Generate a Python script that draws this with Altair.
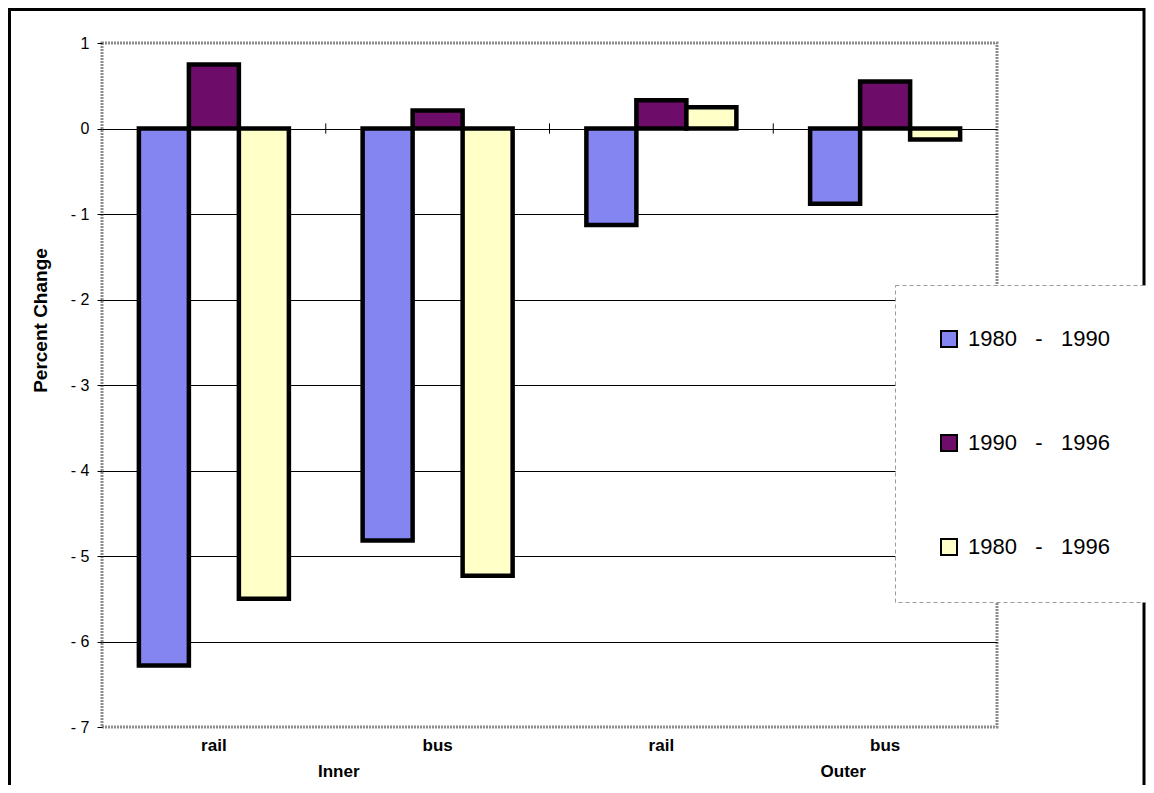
import altair as alt
import pandas as pd

# ---- data ----
groups = ["Inner", "Inner", "Outer", "Outer"]
modes = ["rail", "bus", "rail", "bus"]
series_names = ["1980 - 1990", "1990 - 1996", "1980 - 1996"]
change_1980_1990 = [-6.28, -4.82, -1.13, -0.88]
change_1990_1996 = [0.75, 0.21, 0.33, 0.55]
change_1980_1996 = [-5.50, -5.23, 0.25, -0.13]
series_colors = ["#8585f2", "#6e0c6a", "#ffffc8"]
y_ticks = [1, 0, -1, -2, -3, -4, -5, -6, -7]
group_labels = ["Inner", "Outer"]
group_anchor = ["Inner bus", "Outer bus"]

keys = [f"{g} {m}" for g, m in zip(groups, modes)]
rows = []
for s, vals in zip(series_names, [change_1980_1990, change_1990_1996, change_1980_1996]):
    for k, g, m, v in zip(keys, groups, modes, vals):
        rows.append({"key": k, "group": g, "mode": m, "series": s, "value": v})
df = pd.DataFrame(rows)

tick_df = pd.DataFrame({"key": keys[1:], "top": [0.06] * 3, "bottom": [-0.06] * 3})
grp_df = pd.DataFrame({"key": group_anchor, "group": group_labels})

W, H = 895, 684
FONT = "Liberation Sans"

x_scale = alt.Scale(domain=keys, paddingInner=0, paddingOuter=0)
y_scale = alt.Scale(domain=[-7, 1], nice=False, zero=False)

x_axis = alt.Axis(
    title=None,
    labelExpr="split(datum.label, ' ')[1]",
    labelAngle=0,
    labelFont=FONT,
    labelFontSize=17,
    labelFontWeight="bold",
    labelColor="black",
    labelPadding=10,
    ticks=False,
    domain=False,
    grid=False,
)

y_axis = alt.Axis(
    values=y_ticks,
    title="Percent Change",
    titleFont=FONT,
    titleFontSize=19,
    titleFontWeight="bold",
    titleColor="black",
    titleX=-52,
    titleY=277,
    labelExpr="datum.value < 0 ? '- ' + abs(datum.value) : '' + datum.value",
    labelFont=FONT,
    labelFontSize=16,
    labelColor="black",
    labelPadding=8,
    tickColor="black",
    tickSize=5,
    domain=False,
    grid=True,
    gridColor="black",
    gridWidth=1,
    gridOpacity=alt.condition("datum.value == 1 || datum.value == -7", alt.value(0), alt.value(1)),
)

legend = alt.Legend(
    title=None,
    orient="none",
    legendX=793,
    legendY=242,
    direction="vertical",
    symbolType="square",
    symbolSize=256,
    symbolStrokeColor="black",
    symbolStrokeWidth=2,
    symbolOpacity=1,
    labelFont=FONT,
    labelFontSize=22,
    labelColor="black",
    labelOffset=8,
    rowPadding=80,
    padding=43,
    fillColor="white",
    strokeColor="#9a9a9a",
    labelExpr="replace(datum.label, ' - ', '\u00a0\u00a0\u00a0-\u00a0\u00a0\u00a0')",
)

x_enc = alt.X("key:N", scale=x_scale, sort=keys, axis=x_axis)
x_edge = alt.X("key:N", scale=x_scale, sort=keys, axis=x_axis, bandPosition=0)

frame = alt.Chart(alt.Data(values=[{"a": 1}])).mark_rect(
    filled=False, stroke="black", strokeWidth=3
).encode(
    x=alt.value(-92.5), x2=alt.value(1042), y=alt.value(-33.5), y2=alt.value(800)
)

bars = alt.Chart(df).mark_bar(stroke="black", strokeWidth=4.5).encode(
    x=x_enc,
    xOffset=alt.XOffset(
        "series:N",
        sort=series_names,
        scale=alt.Scale(domain=series_names, paddingInner=0, paddingOuter=0.7375),
    ),
    y=alt.Y("value:Q", scale=y_scale, axis=y_axis),
    color=alt.Color(
        "series:N",
        sort=series_names,
        scale=alt.Scale(domain=series_names, range=series_colors),
        legend=legend,
    ),
)

zero_ticks = alt.Chart(tick_df).mark_rule(color="black", strokeWidth=1).encode(
    x=x_edge,
    y=alt.Y("top:Q", scale=y_scale, axis=y_axis),
    y2="bottom:Q",
)

inner_lbl = alt.Chart(grp_df).transform_filter("datum.group == 'Inner'").mark_text(
    font=FONT, fontSize=17, fontWeight="bold", color="black", dx=13, baseline="middle"
).encode(
    x=x_edge,
    y=alt.value(729),
    text="group:N",
)

outer_lbl = alt.Chart(grp_df).transform_filter("datum.group == 'Outer'").mark_text(
    font=FONT, fontSize=17, fontWeight="bold", color="black", dx=70, baseline="middle"
).encode(
    x=x_edge,
    y=alt.value(729),
    text="group:N",
)

chart = alt.layer(bars, zero_ticks, inner_lbl, outer_lbl, frame).properties(
    width=W,
    height=H,
    autosize=alt.AutoSizeParams(type="none"),
    padding={"left": 94, "top": 35, "right": 149, "bottom": 58},
    background="white",
).configure_view(
    stroke="#8c8c8c", strokeWidth=3, strokeDash=[2, 1]
).configure_legend(
    strokeDash=[4, 3]
)

chart.save("out.html", embed_options={"renderer": "svg", "actions": False})
